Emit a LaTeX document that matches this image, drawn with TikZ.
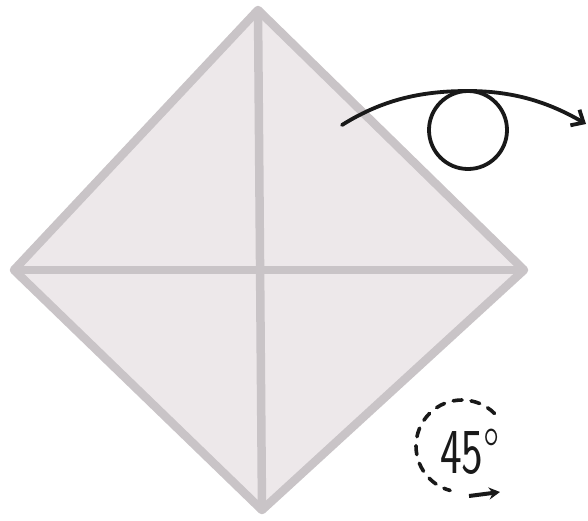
\documentclass[tikz,border=0pt]{standalone}
\usepackage{tikz}
\usetikzlibrary{
	arrows.meta,
	calc
}
\definecolor{PaperFill}{RGB}{237,232,234}
\definecolor{FoldGray}{RGB}{201,196,199}
\definecolor{InkBlack}{RGB}{25,25,25}

\begin{document}
\begin{tikzpicture}[x=1pt, y=-1pt]
		\useasboundingbox (0,0) rectangle (588,520);
		
		\coordinate (T) at (258,10);
		\coordinate (L) at (14,270);
		\coordinate (R) at (524,270);
		\coordinate (B) at (262,510);
		
		% square paper turned by 45 degrees
		\filldraw[fill=PaperFill, draw=FoldGray, line width=8.5pt, line join=round] (T) -- (R) -- (B) -- (L) -- cycle;
		\draw[FoldGray, line width=8.5pt] (T) -- (B);
		\draw[FoldGray, line width=8.5pt] (L) -- (R);
		
		% flip-over arrow with loop
		\coordinate (S) at (342,125);
		\coordinate (P) at (468,91);
		\coordinate (E) at (586,124);
		\draw[InkBlack, line width=3.8pt, line cap=round, -{Straight Barb[length=10pt, width=18pt, line width=3.8pt]}] (S) .. controls (385,98) and (425,91) .. (P) .. controls (515,91) and (550,103) .. (E);
		\draw[InkBlack, line width=3.8pt] (468,130) circle (39);
		
		% rotate by 45 degrees
		\node[InkBlack, font=\sffamily\fontsize{64}{64}\selectfont, xscale=0.72] (angle) at (470,452) {45\textdegree};
		\draw[InkBlack, line width=3.6pt, dash pattern=on 9pt off 9pt, line cap=round] (462,446) ++(-45:46) arc[start angle=-45, end angle=-255, radius=46];
		\coordinate (A1) at (469,496);
		\coordinate (A2) at (500,492);
		\draw[InkBlack, line width=4pt, -{Stealth[length=11pt, width=12pt]}] (A1) -- (A2);
	\end{tikzpicture}
\end{document}
